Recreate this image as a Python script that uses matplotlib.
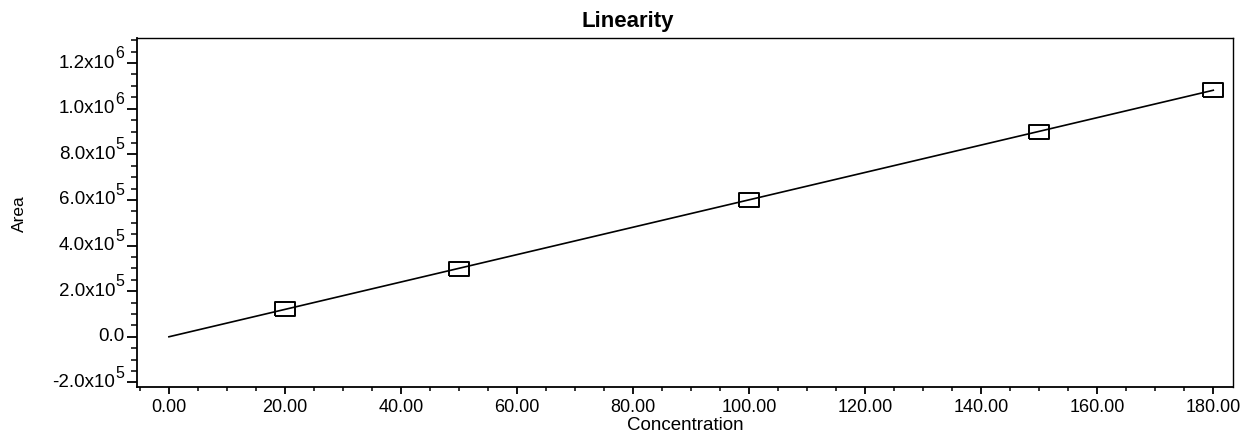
import matplotlib
matplotlib.use("Agg")
import matplotlib.pyplot as plt
import numpy as np
from matplotlib.ticker import MultipleLocator, FuncFormatter, NullFormatter

plt.rcParams['font.family'] = ['Liberation Sans', 'DejaVu Sans']

# data
concentration = [20.0, 50.0, 100.0, 150.0, 180.0]
area = [1.22e5, 2.99e5, 6.0e5, 8.99e5, 1.083e6]

y_ticks = [-2e5, 0.0, 2e5, 4e5, 6e5, 8e5, 1.0e6, 1.2e6]

slope, intercept = np.polyfit(concentration, area, 1)
fit_x = np.array([0.0, 180.0])
fit_y = slope * fit_x + intercept

W, H = 1246, 433
fig = plt.figure(figsize=(W / 100, H / 100), dpi=100)
ax = fig.add_axes([137 / W, 1 - 387 / H, (1233 - 137) / W, (387 - 38) / H])

ax.plot(fit_x, fit_y, color='black', lw=1.2)

# open boxes, wider than tall
rect = [(-1.0, -0.68), (1.0, -0.68), (1.0, 0.68), (-1.0, 0.68), (-1.0, -0.68)]
ax.plot(concentration, area, linestyle='none', marker=rect, markersize=14,
        markerfacecolor='none', markeredgecolor='black', markeredgewidth=1.4)

ax.set_xlim(-5.5, 183.4)
ax.set_ylim(-2.2e5, 1.31e6)

ax.xaxis.set_major_locator(MultipleLocator(20))
ax.xaxis.set_minor_locator(MultipleLocator(5))
ax.set_yticks(y_ticks)
ax.yaxis.set_minor_locator(MultipleLocator(5e4))

ax.xaxis.set_major_formatter(FuncFormatter(lambda v, p: '%.2f' % v))
ax.yaxis.set_major_formatter(NullFormatter())

ax.tick_params(axis='x', which='major', direction='out', length=5, width=1.3,
               labelsize=13, pad=4)
ax.tick_params(axis='x', which='minor', direction='out', length=3, width=1.1)
ax.tick_params(axis='y', which='major', direction='out', length=7, width=1.3)
ax.tick_params(axis='y', which='minor', direction='out', length=4, width=1.1)

# y tick labels in the "1.2x10^6" style, with a big raised exponent
for v in y_ticks:
    if v == 0:
        ax.annotate('0.0', xy=(0, v), xycoords=('axes fraction', 'data'),
                    xytext=(-9, 0), textcoords='offset points',
                    ha='right', va='center', fontsize=13.5)
        continue
    e = int(np.floor(np.log10(abs(v)) + 1e-9))
    m = v / 10 ** e
    ax.annotate('%.1fx10' % m, xy=(0, v), xycoords=('axes fraction', 'data'),
                xytext=(-15.5, 0), textcoords='offset points',
                ha='right', va='center', fontsize=13.5)
    ax.annotate('%d' % e, xy=(0, v), xycoords=('axes fraction', 'data'),
                xytext=(-9.5, 3.5), textcoords='offset points',
                ha='right', va='baseline', fontsize=11.5)

for s in ax.spines.values():
    s.set_linewidth(1.0)
ax.spines['left'].set_linewidth(1.3)
ax.spines['bottom'].set_linewidth(1.3)

fig.text(628 / W, 1 - 21 / H, 'Linearity', fontsize=16, fontweight='bold',
         ha='center', va='center')
ax.set_xlabel('Concentration', fontsize=13.5, labelpad=0)
fig.text(19 / W, 1 - 214 / H, 'Area', fontsize=12.5, rotation=90,
         ha='center', va='center', fontstretch='condensed')

fig.savefig('out.png', dpi=100)
